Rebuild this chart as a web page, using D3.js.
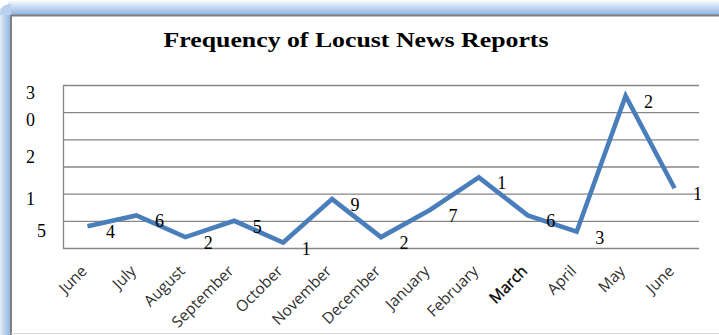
<!DOCTYPE html>
<html>
<head>
<meta charset="utf-8">
<script src="https://cdn.jsdelivr.net/npm/d3@7/dist/d3.min.js"></script>
<style>
  html, body { margin: 0; padding: 0; background: #fff; }
  svg { display: block; }
</style>
</head>
<body>
<svg id="chart" width="719" height="335"></svg>
<script>
// Monthly counts of locust news reports
const months = ["June", "July", "August", "September", "October", "November", "December",
                "January", "February", "March", "April", "May", "June"];
const reports = [4, 6, 2, 5, 1, 9, 2, 7, 13, 6, 3, 28, 11];

// Value axis
const yTicks = [0, 5, 10, 15, 20, 25, 30];
// Value-axis label fragments and the axis value at which each sits
const yLabelText = ["3", "0", "2", "1", "5"];
const yLabelAt = [27.4, 22.4, 15.7, 8.0, 2.0];

const chartTitle = "Frequency of Locust News Reports";

const W = 719, H = 335;
const plot = { left: 63, right: 699, top: 85, bottom: 248 };

const svg = d3.select("#chart");

// ---- outer chart frame with soft blue shadow on the top and left ----
const defs = svg.append("defs");
const gTop = defs.append("linearGradient").attr("id", "gTop")
  .attr("x1", 0).attr("y1", 0).attr("x2", 0).attr("y2", 1);
gTop.append("stop").attr("offset", "0%").attr("stop-color", "#ffffff");
gTop.append("stop").attr("offset", "45%").attr("stop-color", "#c9dbf1");
gTop.append("stop").attr("offset", "100%").attr("stop-color", "#8db3e2");
const gLeft = defs.append("linearGradient").attr("id", "gLeft")
  .attr("x1", 0).attr("y1", 0).attr("x2", 1).attr("y2", 0);
gLeft.append("stop").attr("offset", "0%").attr("stop-color", "#e4edf8");
gLeft.append("stop").attr("offset", "50%").attr("stop-color", "#b5cdec");
gLeft.append("stop").attr("offset", "100%").attr("stop-color", "#8db3e2");

svg.append("rect").attr("x", 8).attr("y", 0).attr("width", W - 8).attr("height", 15)
  .attr("fill", "url(#gTop)");
svg.append("rect").attr("x", 0).attr("y", 8).attr("width", 11).attr("height", H - 8)
  .attr("fill", "url(#gLeft)");
svg.append("path").attr("d", "M0,15 Q0,4 11,4 L11,15 Z").attr("fill", "#b9d0ee");
svg.append("rect").attr("x", 11).attr("y", 15).attr("width", W - 11).attr("height", H - 15)
  .attr("fill", "#ffffff");
svg.append("line").attr("x1", 11).attr("x2", W).attr("y1", 15.5).attr("y2", 15.5)
  .attr("stroke", "#7f7f7f").attr("stroke-width", 2);
svg.append("line").attr("x1", 11).attr("x2", 11).attr("y1", 15).attr("y2", H)
  .attr("stroke", "#7f7f7f").attr("stroke-width", 2);
svg.append("line").attr("x1", 11).attr("x2", W).attr("y1", 333.5).attr("y2", 333.5)
  .attr("stroke", "#d9d9d9").attr("stroke-width", 1);

// ---- scales ----
const x = d3.scalePoint()
  .domain(d3.range(months.length))
  .range([plot.left, plot.right])
  .padding(0.5);
const y = d3.scaleLinear()
  .domain([0, 30])
  .range([plot.bottom, plot.top]);

// ---- title ----
svg.append("text")
  .attr("x", 356).attr("y", 47)
  .attr("text-anchor", "middle")
  .attr("font-family", "'Liberation Serif', 'DejaVu Serif', serif")
  .attr("font-weight", "bold")
  .attr("font-size", 22)
  .attr("textLength", 385)
  .attr("lengthAdjust", "spacingAndGlyphs")
  .attr("fill", "#000")
  .text(chartTitle);

// ---- horizontal gridlines and left edge ----
const yAxis = svg.append("g")
  .attr("transform", `translate(${plot.left},0)`)
  .call(d3.axisLeft(y).tickValues(yTicks).tickSize(-(plot.right - plot.left))
    .tickSizeOuter(0).tickFormat(""));
yAxis.selectAll(".tick line").attr("stroke", "#868686").attr("stroke-width", 1.3);
yAxis.select(".domain").attr("stroke", "#868686").attr("stroke-width", 1.3);

// value-axis label fragments
svg.append("g").selectAll("text")
  .data(yLabelText)
  .join("text")
  .attr("x", (d, i) => i === yLabelText.length - 1 ? 46 : 35)
  .attr("y", (d, i) => y(yLabelAt[i]))
  .attr("text-anchor", "end")
  .attr("font-family", "'Liberation Serif', serif")
  .attr("font-size", 18)
  .attr("fill", "#000")
  .text(d => d);

// ---- category axis ----
const xAxis = svg.append("g")
  .attr("transform", `translate(0,${plot.bottom})`)
  .call(d3.axisBottom(x).tickSize(0).tickFormat(i => months[i]));
xAxis.select(".domain").remove();
xAxis.selectAll(".tick text")
  .attr("x", 0).attr("y", 0).attr("dy", 0)
  .attr("transform", "translate(0,24) rotate(-45)")
  .attr("text-anchor", "end")
  .attr("font-family", "'Open Sans', 'Liberation Sans', sans-serif")
  .attr("font-size", 15.5)
  .attr("fill", (i) => months[i] === "March" ? "#000" : "#303030")
  .attr("stroke", (i) => months[i] === "March" ? "#000" : "none")
  .attr("stroke-width", 0.35);

// ---- line ----
const line = d3.line()
  .x((d, i) => x(i))
  .y(d => y(d));
svg.append("path")
  .datum(reports)
  .attr("d", line)
  .attr("fill", "none")
  .attr("stroke", "#4a7ebb")
  .attr("stroke-width", 4.6)
  .attr("stroke-linejoin", "miter");

// ---- data labels (only the leading digit of each count fits) ----
svg.append("g").selectAll("text")
  .data(reports)
  .join("text")
  .attr("x", (d, i) => x(i) + 23)
  .attr("y", d => y(d) + 12)
  .attr("text-anchor", "middle")
  .attr("font-family", "'Liberation Serif', serif")
  .attr("font-size", 18)
  .attr("fill", "#000")
  .text(d => String(d).charAt(0));
</script>
</body>
</html>
